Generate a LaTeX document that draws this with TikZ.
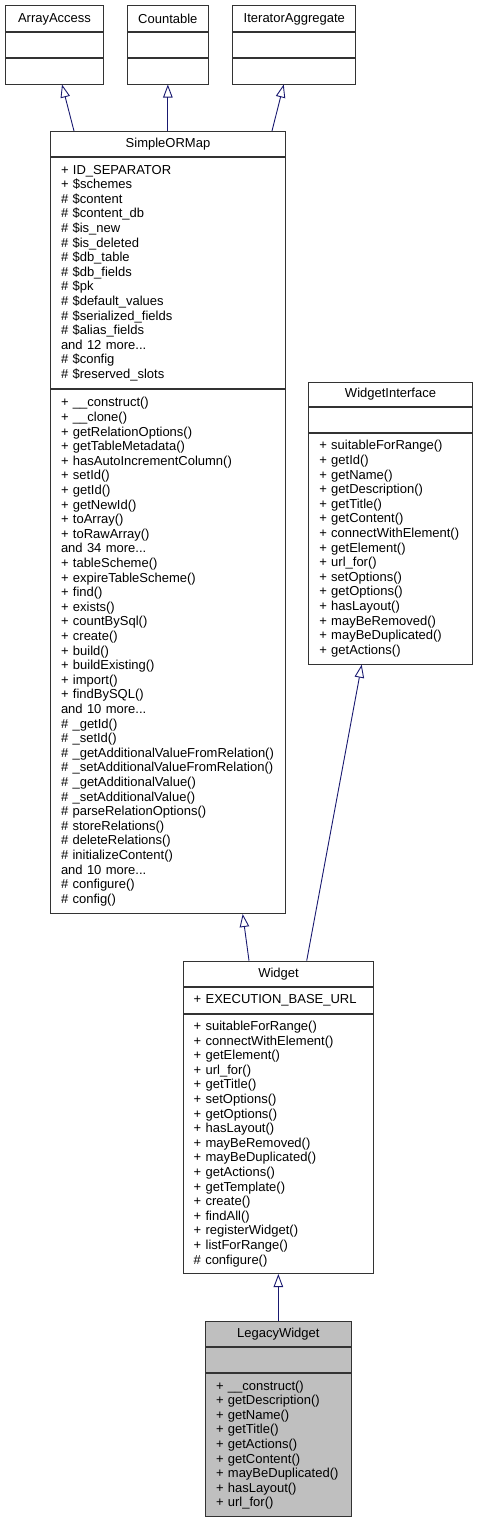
\documentclass[tikz,border=0pt]{standalone}
\usepackage{fontspec}
\setmainfont{Liberation Sans}
\usepackage{xcolor}
\usetikzlibrary{arrows.meta, positioning}
\definecolor{edgeblue}{HTML}{191970}

\begin{document}
\begin{tikzpicture}[
        x=1pt, y=-1pt,
        node distance=0pt,
        head/.style={rectangle, draw=black!80, line width=1pt, fill=white, inner sep=0pt, minimum height=25pt, align=center, font=\fontsize{13}{14.6}\selectfont},
        part/.style={rectangle, draw=black!80, line width=1pt, fill=white, inner xsep=10.5pt, inner ysep=3pt, align=left, font=\fontsize{13}{14.6}\selectfont},
        legacy/.style={fill=black!25},
        arrow/.style={-{Triangle[open, length=13pt, width=9.5pt]}, draw=edgeblue, line width=0.9pt}
    ]
        \useasboundingbox (0,0) rectangle (477,1520);

        % Interfaces
        \node[head, minimum width=98pt, minimum height=26pt, anchor=north west] (aa) at (5,5.5) {ArrayAccess};
        \node[part, below=of aa, text width=77pt, minimum height=25pt] (aa-attr) {};
        \node[part, below=of aa-attr, text width=77pt, minimum height=25pt] (aa-ops) {};

        \node[head, minimum width=81.3pt, minimum height=26pt, anchor=north west] (cnt) at (126.7,5.5) {Countable};
        \node[part, below=of cnt, text width=60.3pt, minimum height=25pt] (cnt-attr) {};
        \node[part, below=of cnt-attr, text width=60.3pt, minimum height=25pt] (cnt-ops) {};

        \node[head, minimum width=123pt, minimum height=26pt, anchor=north west] (ia) at (232.3,5.5) {IteratorAggregate};
        \node[part, below=of ia, text width=102pt, minimum height=25pt] (ia-attr) {};
        \node[part, below=of ia-attr, text width=102pt, minimum height=25pt] (ia-ops) {};

        % SimpleORMap
        \node[head, minimum width=235pt, anchor=north west] (som) at (50,131) {SimpleORMap};
        \node[part, below=of som, text width=214pt, minimum height=231.3pt] (som-attr) {+ ID\_SEPARATOR\\+ \$schemes\\\# \$content\\\# \$content\_db\\\# \$is\_new\\\# \$is\_deleted\\\# \$db\_table\\\# \$db\_fields\\\# \$pk\\\# \$default\_values\\\# \$serialized\_fields\\\# \$alias\_fields\\and 12 more...\\\# \$config\\\# \$reserved\_slots};
        \node[part, below=of som-attr, text width=214pt, minimum height=523.7pt] (som-ops) {+ \_\_construct()\\+ \_\_clone()\\+ getRelationOptions()\\+ getTableMetadata()\\+ hasAutoIncrementColumn()\\+ setId()\\+ getId()\\+ getNewId()\\+ toArray()\\+ toRawArray()\\and 34 more...\\+ tableScheme()\\+ expireTableScheme()\\+ find()\\+ exists()\\+ countBySql()\\+ create()\\+ build()\\+ buildExisting()\\+ import()\\+ findBySQL()\\and 10 more...\\\# \_getId()\\\# \_setId()\\\# \_getAdditionalValueFromRelation()\\\# \_setAdditionalValueFromRelation()\\\# \_getAdditionalValue()\\\# \_setAdditionalValue()\\\# parseRelationOptions()\\\# storeRelations()\\\# deleteRelations()\\\# initializeContent()\\and 10 more...\\\# configure()\\\# config()};

        % WidgetInterface
        \node[head, minimum width=163.4pt, minimum height=23.7pt, anchor=north west] (wif) at (308.3,382) {WidgetInterface};
        \node[part, below=of wif, text width=142.4pt, minimum height=25pt] (wif-attr) {};
        \node[part, below=of wif-attr, text width=142.4pt, minimum height=231pt] (wif-ops) {+ suitableForRange()\\+ getId()\\+ getName()\\+ getDescription()\\+ getTitle()\\+ getContent()\\+ connectWithElement()\\+ getElement()\\+ url\_for()\\+ setOptions()\\+ getOptions()\\+ hasLayout()\\+ mayBeRemoved()\\+ mayBeDuplicated()\\+ getActions()};

        % Widget
        \node[head, minimum width=190.6pt, anchor=north west] (wdg) at (182.7,960.7) {Widget};
        \node[part, below=of wdg, text width=169.6pt, minimum height=26pt] (wdg-attr) {+ EXECUTION\_BASE\_URL};
        \node[part, below=of wdg-attr, text width=169.6pt, minimum height=259.3pt] (wdg-ops) {+ suitableForRange()\\+ connectWithElement()\\+ getElement()\\+ url\_for()\\+ getTitle()\\+ setOptions()\\+ getOptions()\\+ hasLayout()\\+ mayBeRemoved()\\+ mayBeDuplicated()\\+ getActions()\\+ getTemplate()\\+ create()\\+ findAll()\\+ registerWidget()\\+ listForRange()\\\# configure()};

        % LegacyWidget
        \node[head, legacy, minimum width=145.7pt, minimum height=25.3pt, anchor=north west] (lw) at (205,1320.7) {LegacyWidget};
        \node[part, legacy, below=of lw, text width=124.7pt, minimum height=25pt] (lw-attr) {};
        \node[part, legacy, below=of lw-attr, text width=124.7pt, minimum height=143.3pt] (lw-ops) {+ \_\_construct()\\+ getDescription()\\+ getName()\\+ getTitle()\\+ getActions()\\+ getContent()\\+ mayBeDuplicated()\\+ hasLayout()\\+ url\_for()};

        % Inheritance
        \draw[arrow] ([xshift=24pt]som.north west) -- ([xshift=57pt]aa-ops.south west);
        \draw[arrow] (cnt-ops.south |- som.north) -- (cnt-ops.south);
        \draw[arrow] ([xshift=-14pt]som.north east) -- ([xshift=-72.6pt]ia-ops.south east);
        \draw[arrow] ([xshift=66.3pt]wdg.north west) -- ([xshift=-43.3pt]som-ops.south east);
        \draw[arrow] ([xshift=124pt]wdg.north west) -- ([xshift=53.4pt]wif-ops.south west);
        \draw[arrow] (lw.north) -- (lw.north |- wdg-ops.south);
    \end{tikzpicture}
\end{document}
